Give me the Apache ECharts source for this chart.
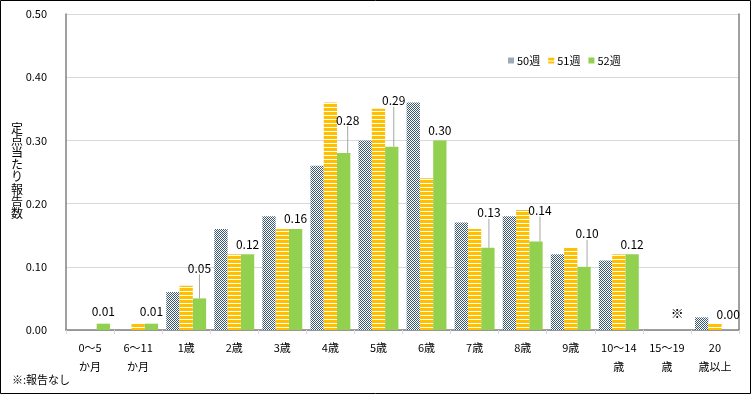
<!DOCTYPE html>
<html>
<head>
<meta charset="utf-8">
<script src="https://cdn.jsdelivr.net/npm/echarts@6/dist/echarts.min.js"></script>
<style>
  html, body { margin: 0; padding: 0; background: #fff; }
  #chart { width: 753px; height: 396px; }
</style>
</head>
<body>
<div id="chart"></div>
<script>
// 年齢区分
const categories = ['0〜5\nか月', '6〜11\nか月', '1歳', '2歳', '3歳', '4歳', '5歳', '6歳', '7歳', '8歳', '9歳', '10〜14\n歳', '15〜19\n歳', '20\n歳以上']
const weekNames = ['50週', '51週', '52週']
// 定点当たり報告数
const week50 = [0, 0, 0.06, 0.16, 0.18, 0.26, 0.30, 0.36, 0.17, 0.18, 0.12, 0.11, 0, 0.02]
const week51 = [0, 0.01, 0.07, 0.12, 0.16, 0.36, 0.35, 0.24, 0.16, 0.19, 0.13, 0.12, 0, 0.01]
const week52 = [0.01, 0.01, 0.05, 0.12, 0.16, 0.28, 0.29, 0.30, 0.13, 0.14, 0.10, 0.12, 0, 0.00]
// 報告なし
const noReport = [false, false, false, false, false, false, false, false, false, false, false, false, true, false]

// 52週ラベルのずらし量 [dx, dy]
const labelShift = [
    [0, -2], [0, -2], [0, -20], [0, 0], [0, 0], [4, -23], [2, -36],
    [0, 0], [1, -25], [4, -21], [3, -23], [0, 0], [-3, -6], [0, -6]
]

function makePattern(type) {
    const c = document.createElement('canvas')
    const ctx = c.getContext('2d')
    if (type === 'check') {
        c.width = 2; c.height = 2
        ctx.fillStyle = '#ffffff'
        ctx.fillRect(0, 0, 2, 2)
        ctx.fillStyle = '#3b5874'
        ctx.fillRect(0, 0, 1, 1)
        ctx.fillRect(1, 1, 1, 1)
    } else {
        c.width = 4; c.height = 4
        ctx.fillStyle = '#ffffff'
        ctx.fillRect(0, 0, 4, 4)
        ctx.fillStyle = '#ffc000'
        ctx.fillRect(0, 0, 4, 3)
    }
    return { image: c, repeat: 'repeat' }
}

const chart = echarts.init(document.getElementById('chart'))
const font = '"Noto Sans CJK JP", "Noto Sans", sans-serif'
const frame = { show: true, lineStyle: { color: '#808080', width: 1.5 } }

chart.setOption({
    animation: false,
    textStyle: { fontFamily: font },
    grid: { left: 66, right: 14, top: 14, bottom: 66 },
    legend: {
        data: weekNames,
        left: 503,
        top: 50,
        itemWidth: 6,
        itemHeight: 6,
        itemGap: 8,
        textStyle: { fontSize: 11, color: '#000', padding: [0, 0, 0, -2] },
        icon: 'rect'
    },
    xAxis: [{
        type: 'category',
        data: categories,
        axisLine: { lineStyle: { color: '#d9d9d9' } },
        axisTick: { show: true, length: 4, lineStyle: { color: '#d9d9d9' } },
        axisLabel: { color: '#000', fontSize: 11, lineHeight: 19, margin: 8, interval: 0 }
    }, {
        type: 'category',
        position: 'top',
        data: categories,
        axisLine: frame,
        axisTick: { show: false },
        axisLabel: { show: false }
    }],
    yAxis: [{
        type: 'value',
        min: 0,
        max: 0.5,
        interval: 0.1,
        axisLine: frame,
        axisTick: { show: false },
        axisLabel: {
            color: '#000',
            fontSize: 11,
            margin: 19,
            formatter: v => v.toFixed(2)
        },
        splitLine: { lineStyle: { color: '#d9d9d9', width: 1 } }
    }, {
        type: 'value',
        position: 'right',
        min: 0,
        max: 0.5,
        interval: 0.1,
        axisLine: frame,
        axisTick: { show: false },
        axisLabel: { show: false },
        splitLine: { show: false }
    }],
    series: [{
        name: weekNames[0],
        type: 'bar',
        barGap: '0%',
        barCategoryGap: '17%',
        itemStyle: { color: makePattern('check') },
        data: week50
    }, {
        name: weekNames[1],
        type: 'bar',
        itemStyle: { color: makePattern('stripe') },
        data: week51
    }, {
        name: weekNames[2],
        type: 'bar',
        itemStyle: { color: '#92d050' },
        label: {
            show: true,
            position: 'top',
            distance: 4,
            color: '#000',
            fontSize: 12,
            fontFamily: font
        },
        labelLine: { show: false },
        labelLayout: p => ({ dx: labelShift[p.dataIndex][0], dy: labelShift[p.dataIndex][1] }),
        data: week52.map((v, i) => {
            const item = { value: v }
            if (noReport[i]) {
                item.label = { formatter: '※', fontSize: 13 }
            } else {
                item.label = { formatter: v.toFixed(2) }
            }
            if (labelShift[i][1] < -10) {
                item.labelLine = { show: true, lineStyle: { color: '#a6a6a6', width: 1 } }
            }
            return item
        })
    }],
    graphic: [{
        type: 'rect',
        shape: { x: 0.5, y: 0.5, width: 750, height: 393 },
        style: { fill: 'none', stroke: '#000', lineWidth: 1 },
        silent: true
    }, {
        type: 'text',
        left: 11,
        top: 122,
        style: {
            text: '定点当たり報告数'.split('').join('\n'),
            fontSize: 12,
            lineHeight: 12.2,
            fill: '#000',
            fontFamily: font
        }
    }, {
        type: 'text',
        left: 12,
        top: 374,
        style: {
            text: '※:報告なし',
            fontSize: 11,
            fill: '#000',
            fontFamily: font
        }
    }]
})
</script>
</body>
</html>
